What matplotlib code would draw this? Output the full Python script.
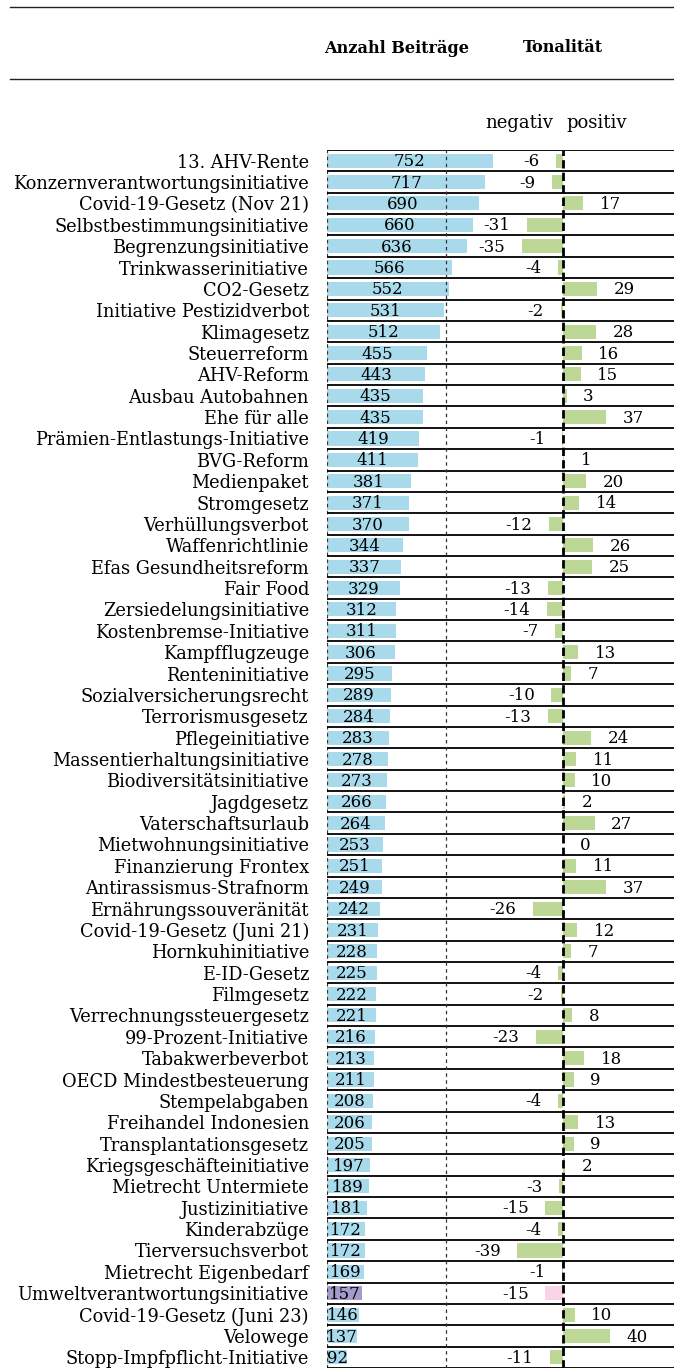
import matplotlib
matplotlib.use("Agg")
import matplotlib.pyplot as plt
from matplotlib.lines import Line2D

plt.rcParams['font.family'] = ['DejaVu Serif']
plt.rcParams['lines.scale_dashes'] = False

# Vorlagen, Anzahl Beiträge und Tonalität
labels = [
    "13. AHV-Rente", "Konzernverantwortungsinitiative", "Covid-19-Gesetz (Nov 21)",
    "Selbstbestimmungsinitiative", "Begrenzungsinitiative", "Trinkwasserinitiative",
    "CO2-Gesetz", "Initiative Pestizidverbot", "Klimagesetz", "Steuerreform",
    "AHV-Reform", "Ausbau Autobahnen", "Ehe für alle", "Prämien-Entlastungs-Initiative",
    "BVG-Reform", "Medienpaket", "Stromgesetz", "Verhüllungsverbot", "Waffenrichtlinie",
    "Efas Gesundheitsreform", "Fair Food", "Zersiedelungsinitiative",
    "Kostenbremse-Initiative", "Kampfflugzeuge", "Renteninitiative",
    "Sozialversicherungsrecht", "Terrorismusgesetz", "Pflegeinitiative",
    "Massentierhaltungsinitiative", "Biodiversitätsinitiative", "Jagdgesetz",
    "Vaterschaftsurlaub", "Mietwohnungsinitiative", "Finanzierung Frontex",
    "Antirassismus-Strafnorm", "Ernährungssouveränität", "Covid-19-Gesetz (Juni 21)",
    "Hornkuhinitiative", "E-ID-Gesetz", "Filmgesetz", "Verrechnungssteuergesetz",
    "99-Prozent-Initiative", "Tabakwerbeverbot", "OECD Mindestbesteuerung",
    "Stempelabgaben", "Freihandel Indonesien", "Transplantationsgesetz",
    "Kriegsgeschäfteinitiative", "Mietrecht Untermiete", "Justizinitiative",
    "Kinderabzüge", "Tierversuchsverbot", "Mietrecht Eigenbedarf",
    "Umweltverantwortungsinitiative", "Covid-19-Gesetz (Juni 23)", "Velowege",
    "Stopp-Impfpflicht-Initiative",
]
beitraege = [752, 717, 690, 660, 636, 566, 552, 531, 512, 455, 443, 435, 435, 419,
             411, 381, 371, 370, 344, 337, 329, 312, 311, 306, 295, 289, 284, 283,
             278, 273, 266, 264, 253, 251, 249, 242, 231, 228, 225, 222, 221, 216,
             213, 211, 208, 206, 205, 197, 189, 181, 172, 172, 169, 157, 146, 137, 92]
tonalitaet = [-6, -9, 17, -31, -35, -4, 29, -2, 28, 16, 15, 3, 37, -1, 1, 20, 14,
              -12, 26, 25, -13, -14, -7, 13, 7, -10, -13, 24, 11, 10, 2, 27, 0, 11,
              37, -26, 12, 7, -4, -2, 8, -23, 18, 9, -4, 13, 9, 2, -3, -15, -4, -39,
              -1, -15, 10, 40, -11]
highlight = "Umweltverantwortungsinitiative"

W, H = 674, 1370
fig = plt.figure(figsize=(W / 100, H / 100), dpi=100)

x0, x1 = 327, 674
y_top, y_bot = 150, 1368
pos = [x0 / W, 1 - y_bot / H, (x1 - x0) / W, (y_bot - y_top) / H]

ax1 = fig.add_axes(pos)
ax2 = fig.add_axes(pos)
ax2.patch.set_visible(False)

n = len(labels)
ys = list(range(n))

blue = "#A8DAEC"
green = "#BDD797"
purple = "#A59BCB"
pink = "#F9D3E6"

cols1 = [purple if l == highlight else blue for l in labels]
cols2 = [pink if l == highlight else green for l in labels]

ax1.barh(ys, beitraege, height=0.66, color=cols1, zorder=2)
ax1.set_xlim(0, (x1 - x0) / 0.2207)
ax1.set_ylim(n - 0.5, -0.5)
for y, v in zip(ys, beitraege):
    ax1.text(v / 2, y + 0.05, str(v), ha="center", va="center", fontsize=12, zorder=4)

ax2.barh(ys, tonalitaet, height=0.66, color=cols2, zorder=2)
ax2.set_xlim(-(563 - x0) / 1.17, (x1 - 563) / 1.17)
ax2.set_ylim(n - 0.5, -0.5)
for y, t in zip(ys, tonalitaet):
    if t < 0:
        ax2.annotate(str(t), (t, y + 0.05), xytext=(-12, 0), textcoords="offset points",
                     ha="right", va="center", fontsize=12)
    else:
        ax2.annotate(str(t), (t, y + 0.05), xytext=(12, 0), textcoords="offset points",
                     ha="left", va="center", fontsize=12)

# Zeilenlinien und Hilfslinien
for b in range(n + 1):
    ax2.axhline(b - 0.5, color="black", lw=1.3, zorder=3)
ax1.axvline(0, color="#333333", lw=0.9, dashes=(2.5, 2.5), zorder=3)
ax2.axvline(-100, color="#333333", lw=0.9, dashes=(2.5, 2.5), zorder=3)
ax2.axvline(0, color="black", lw=2, dashes=(6, 3), zorder=5)

ax1.set_yticks(ys)
ax1.set_yticklabels(labels, fontsize=12.8)
ax1.tick_params(axis="y", length=0, pad=13)
ax1.set_xticks([])
ax2.set_xticks([])
ax2.set_yticks([])
for a in (ax1, ax2):
    for s in a.spines.values():
        s.set_visible(False)

# Kopfzeile
fig.add_artist(Line2D([10 / W, 1], [1 - 7 / H] * 2, color="#222222", lw=1))
fig.add_artist(Line2D([10 / W, 1], [1 - 79 / H] * 2, color="#222222", lw=1))
fig.text(397 / W, 1 - 48 / H, "Anzahl Beiträge", ha="center", va="center",
         fontsize=11.6, fontweight="bold")
fig.text(563 / W, 1 - 48 / H, "Tonalität", ha="center", va="center",
         fontsize=11.6, fontweight="bold")
fig.text(553 / W, 1 - 123 / H, "negativ", ha="right", va="center", fontsize=13)
fig.text(566 / W, 1 - 123 / H, "positiv", ha="left", va="center", fontsize=13)

fig.savefig("out.png", dpi=100)
